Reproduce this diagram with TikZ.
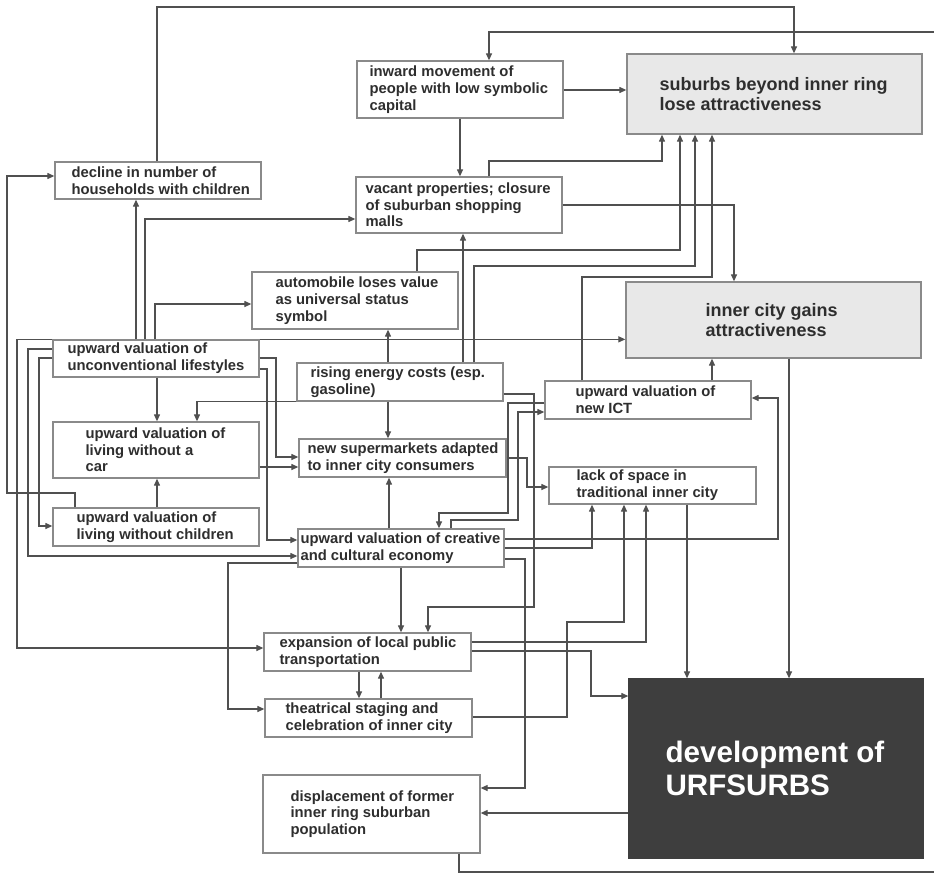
\documentclass[tikz,border=0pt]{standalone}
\usepackage{fontspec}
\setmainfont{Liberation Sans}
\usetikzlibrary{arrows.meta}

\definecolor{linegray}{HTML}{505050}
\definecolor{framegray}{HTML}{8A8A8A}
\definecolor{textgray}{HTML}{2E2E2E}
\definecolor{panelgray}{HTML}{E8E8E8}
\definecolor{darkpanel}{HTML}{3E3E3E}

% #1 name, #2 left, #3 top, #4 width, #5 height, #6 text indent,
% #7 frame style, #8 text style, #9 text
\newcommand\flowbox[9]{%
  \node[#7, minimum width=#4pt, minimum height=#5pt] (#1) at (#2+#4/2, #3+#5/2) {};
  \node[#8, anchor=west] (#1-text) at ([xshift=#6pt]#1.west) {#9};
}

\tikzset{
  frame/.style={rectangle, draw=framegray, line width=1.3pt, fill=white, inner sep=0pt},
  bigframe/.style={frame, fill=panelgray},
  darkframe/.style={frame, draw=darkpanel, fill=darkpanel},
  txt/.style={inner sep=0pt, align=left, text=textgray,
    font=\bfseries\fontsize{14.8}{16.7}\selectfont},
  bigtxt/.style={txt, font=\bfseries\fontsize{18}{20.5}\selectfont},
  hugetxt/.style={txt, text=white, font=\bfseries\fontsize{29.6}{33}\selectfont},
  arr/.style={draw=linegray, line width=1.2pt, -{Triangle[length=7pt,width=6pt]}},
}

\begin{document}
\begin{tikzpicture}[x=1pt, y=-1pt]
\useasboundingbox (0,0) rectangle (934,873);
\clip (0,0) rectangle (934,873);
\fill[white] (0,0) rectangle (934,873);

% ---- boxes ----
\flowbox{inward}{357}{61}{206}{57}{13}{frame}{txt}{inward movement of\\people with low symbolic\\capital}
\flowbox{suburbs}{627}{54}{295}{80}{33}{bigframe}{bigtxt}{suburbs beyond inner ring\\lose attractiveness}
\flowbox{decline}{55}{162}{206}{37}{17}{frame}{txt}{decline in number of\\households with children}
\flowbox{vacant}{356}{177}{206}{56}{10}{frame}{txt}{vacant properties; closure\\of suburban shopping\\malls}
\flowbox{auto}{252}{272}{206}{57}{24}{frame}{txt}{automobile loses value\\as universal status\\symbol}
\flowbox{innercity}{626}{282}{295}{76}{80}{bigframe}{bigtxt}{inner city gains\\attractiveness}
\flowbox{unconv}{53}{340}{206}{37}{15}{frame}{txt}{upward valuation of\\unconventional lifestyles}
\flowbox{energy}{297}{363}{206}{38}{14}{frame}{txt}{rising energy costs (esp.\\gasoline)}
\flowbox{ict}{545}{381}{206}{38}{31}{frame}{txt}{upward valuation of\\new ICT}
\flowbox{car}{53}{422}{206}{56}{33}{frame}{txt}{upward valuation of\\living without a\\car}
\flowbox{supermarkets}{299}{439}{207}{38}{9}{frame}{txt}{new supermarkets adapted\\to inner city consumers}
\flowbox{lack}{549}{467}{207}{37}{28}{frame}{txt}{lack of space in\\traditional inner city}
\flowbox{nochild}{53}{508}{206}{38}{24}{frame}{txt}{upward valuation of\\living without children}
\flowbox{creative}{298}{529}{206}{38}{3}{frame}{txt}{upward valuation of creative\\and cultural economy}
\flowbox{transport}{264}{633}{207}{38}{16}{frame}{txt}{expansion of local public\\transportation}
\flowbox{theatrical}{265}{699}{207}{38}{21}{frame}{txt}{theatrical staging and\\celebration of inner city}
\flowbox{displacement}{263}{775}{217}{78}{28}{frame}{txt}{displacement of former\\inner ring suburban\\population}
\flowbox{urfsurbs}{629}{679}{294}{179}{37}{darkframe}{hugetxt}{development of\\URFSURBS}

% ---- connectors ----
% upper part
\draw[arr] (decline.north -| 157,0) |- (794,7) -- (suburbs.north -| 794,0);
\draw[arr] (displacement.south -| 459,0) -- (459,872) -- (945,872) -- (945,32) -| (inward.north -| 489,0);
\draw[arr] (inward.east |- 0,90) -- (suburbs.west |- 0,90);
\draw[arr] (inward.south -| 460,0) -- (vacant.north -| 460,0);
\draw[arr] (vacant.north -| 489,0) |- (662,161) -- (suburbs.south -| 662,0);
\draw[arr] (vacant.east |- 0,205) -| (innercity.north -| 734,0);
\draw[arr] (auto.north -| 417,0) |- (680,250) -- (suburbs.south -| 680,0);
\draw[arr] (energy.north -| 474,0) |- (695,266) -- (suburbs.south -| 695,0);
\draw[arr] (ict.north -| 582,0) |- (712,277) -- (suburbs.south -| 712,0);
\draw[arr] (energy.north -| 463,0) -- (vacant.south -| 463,0);

% from unconventional lifestyles
\draw[arr] (unconv.north east) -- (innercity.west |- unconv.north);
\draw[arr] (unconv.north west) -- (17,0 |- unconv.north) |- (transport.west |- 0,648);
\draw[arr] (unconv.north -| 136,0) -- (decline.south -| 136,0);
\draw[arr] (unconv.north -| 145,0) |- (vacant.west |- 0,219);
\draw[arr] (unconv.north -| 155,0) |- (auto.west |- 0,304);
\draw[arr] (unconv.west |- 0,349) -| (28,556) -- (creative.west |- 0,556);
\draw[arr] (unconv.west |- 0,358) -| (39,526) -- (nochild.west |- 0,526);
\draw[arr] (unconv.south -| 157,0) -- (car.north -| 157,0);
\draw[arr] (unconv.east |- 0,358) -| (276,457) -- (supermarkets.west |- 0,457);
\draw[arr] (unconv.east |- 0,369) -| (267,540) -- (creative.west |- 0,540);

% left column
\draw[arr] (nochild.north -| 75,0) |- (7,493) |- (decline.west |- 0,176);
\draw[arr] (nochild.north -| 157,0) -- (car.south -| 157,0);
\draw[arr] (car.east |- 0,467) -- (supermarkets.west |- 0,467);

% from rising energy costs
\draw[arr] (energy.south west) -| (car.north -| 197,0);
\draw[arr] (energy.north -| 388,0) -- (auto.south -| 388,0);
\draw[arr] (energy.south -| 388,0) -- (supermarkets.north -| 388,0);
\draw[arr] (energy.east |- 0,394) -| (534,607) -| (transport.north -| 428,0);

% creative and cultural economy
\draw[arr] (creative.north -| 389,0) -- (supermarkets.south -| 389,0);
\draw[arr] (creative.south -| 401,0) -- (transport.north -| 401,0);
\draw[arr] (creative.west |- 0,563) -| (228,709) -- (theatrical.west |- 0,709);
\draw[arr] (ict.west |- 0,403) -| (508,513) -| (creative.north -| 439,0);
\draw[arr] (creative.north -| 451,0) |- (518,520) |- (ict.west |- 0,412);
\draw[arr] (creative.east |- 0,539) -| (778,398) -- (ict.east |- 0,398);
\draw[arr] (creative.east |- 0,548) -| (lack.south -| 592,0);
\draw[arr] (creative.east |- 0,559) -| (525,788) -- (displacement.east |- 0,788);

% supermarkets, transport, staging
\draw[arr] (supermarkets.east |- 0,458) -| (527,487) -- (lack.west |- 0,487);
\draw[arr] (transport.south -| 359,0) -- (theatrical.north -| 359,0);
\draw[arr] (theatrical.north -| 381,0) -- (transport.south -| 381,0);
\draw[arr] (transport.east |- 0,642) -| (lack.south -| 646,0);
\draw[arr] (transport.east |- 0,651) -| (591,696) -- (urfsurbs.west |- 0,696);
\draw[arr] (theatrical.east |- 0,717) -| (567,622) -| (lack.south -| 624,0);

% towards the outcome
\draw[arr] (lack.south -| 687,0) -- (urfsurbs.north -| 687,0);
\draw[arr] (innercity.south -| 789,0) -- (urfsurbs.north -| 789,0);
\draw[arr] (ict.north -| 712,0) -- (innercity.south -| 712,0);
\draw[arr] (urfsurbs.west |- 0,813) -- (displacement.east |- 0,813);
\end{tikzpicture}
\end{document}
